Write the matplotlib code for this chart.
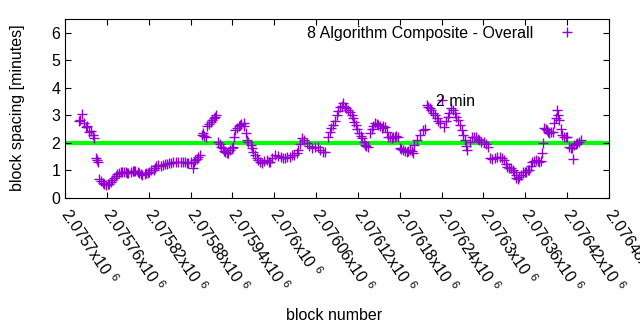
import numpy as np
import matplotlib
matplotlib.use("Agg")
import matplotlib.pyplot as plt

plt.rcParams['font.family'] = ['Liberation Sans', 'DejaVu Sans']
plt.rcParams['mathtext.default'] = 'regular'

# block offsets from 2075700 and block spacing in minutes
base_block = 2075700
block_offset = [
    20, 22, 24, 27, 30, 32, 34, 37, 40, 41,
    44, 46, 47,
    49, 51, 54, 56, 59, 61, 63, 66, 68, 70, 73, 75, 77, 80, 82, 84, 87, 89, 91, 94, 97, 99,
    101, 104, 106, 109, 111, 114, 116, 119, 121, 124, 127, 129, 131, 134, 137, 140, 143, 146,
    149, 152, 155, 159, 162, 166, 169, 172, 175, 177, 180, 183, 185, 187, 189, 191, 193,
    196, 198, 200, 202, 204, 206, 209, 211, 213, 215, 216,
    220, 222, 224, 226, 228, 230, 232, 234, 237, 239, 241, 243, 244, 247, 249, 251, 253, 256,
    257, 259, 261, 263, 266, 268, 270, 273, 275, 277, 280, 283, 286, 289, 292, 294, 297, 301,
    305, 309, 312, 316, 319, 323, 326, 329, 332, 334, 337, 340, 343, 347, 350, 354, 358, 363,
    366, 370,
    373, 377, 380, 382, 384, 387, 390, 392, 394, 397, 399, 401, 403, 406, 409, 411, 413, 415,
    417, 419, 421, 424, 426, 428, 430, 432, 434, 437, 440, 442, 444, 447, 449, 451, 454, 456,
    459, 461, 463, 466, 469, 471, 473, 475, 477, 480, 482, 484, 487, 490, 492, 494, 497, 499,
    501, 505, 509, 513, 516, 519, 521, 523, 525, 527, 530, 533, 535, 537, 541, 544, 546, 549,
    551, 554, 556, 559, 561, 563, 566, 569, 571, 573, 575, 577, 580, 583, 586, 589, 592, 594,
    597, 601, 603, 606, 609, 612, 616, 619, 623, 626, 630, 632, 634, 637, 640, 642, 644, 646,
    647, 649, 651, 654, 656, 659, 661, 664, 666, 668, 670, 673, 676, 678, 680, 682, 684, 685,
    687, 689, 691, 692, 694, 697, 699, 701, 704, 706, 707, 709, 711, 713, 716, 718, 720, 723,
    725, 727, 728, 730, 732, 734, 737, 740,
]
spacing = [
    2.80, 2.84, 3.05, 2.73, 2.58, 2.62, 2.40, 2.45, 2.29, 2.18,
    1.45, 1.38, 1.31,
    0.69, 0.60, 0.55, 0.50, 0.47, 0.50, 0.52, 0.58, 0.65, 0.73, 0.80, 0.87, 0.91, 0.93, 0.95, 0.95, 0.93, 0.92, 0.91, 0.95, 0.97, 0.98,
    0.98, 0.93, 0.90, 0.86, 0.84, 0.88, 0.90, 0.91, 0.95, 1.00, 1.02, 1.10, 1.15, 1.20, 1.18, 1.20, 1.22, 1.25,
    1.27, 1.28, 1.30, 1.31, 1.30, 1.30, 1.31, 1.30, 1.28, 1.27, 1.30, 1.09, 1.30, 1.38, 1.42, 1.50, 1.56,
    2.30, 2.36, 2.25, 2.20, 2.60, 2.70, 2.76, 2.85, 2.90, 2.95, 3.00,
    2.04, 1.95, 1.85, 1.80, 1.70, 1.67, 1.62, 1.65, 1.75, 1.80, 1.85, 2.20, 2.47, 2.55, 2.60, 2.65, 2.70, 2.73,
    2.60, 2.36, 2.10, 2.05, 1.93, 1.80, 1.67, 1.55, 1.45, 1.38, 1.30, 1.27, 1.33, 1.38, 1.30, 1.31, 1.45, 1.56,
    1.52, 1.50, 1.45, 1.45, 1.50, 1.50, 1.55, 1.56, 1.65, 1.75, 1.95, 2.18, 2.10, 2.00, 1.90, 1.82, 1.85, 1.85,
    1.75, 1.67,
    1.67, 2.20, 2.40, 2.55, 2.65, 2.80, 3.00, 3.15, 3.30, 3.35, 3.45, 3.30, 3.27, 3.20, 3.13, 3.00, 2.90, 2.75,
    2.65, 2.50, 2.36, 2.25, 2.18, 2.05, 1.93, 1.90, 1.85, 2.36, 2.50, 2.60, 2.73, 2.70, 2.65, 2.60, 2.55, 2.60,
    2.58, 2.40, 2.20, 2.20, 2.18, 2.20, 2.20, 2.25, 2.20, 1.80, 1.78, 1.75, 1.70, 1.67, 1.72, 1.75, 1.70, 1.64,
    1.93, 2.10, 2.30, 2.47, 2.50, 3.38, 3.30, 3.27, 3.20, 3.10, 3.00, 2.90, 2.80, 2.73, 3.56, 2.58, 2.80, 2.95,
    3.10, 3.27, 3.20, 3.10, 2.95, 2.84, 2.65, 2.47, 2.30, 2.10, 1.90, 1.75, 2.05, 2.20, 2.20, 2.20, 2.15, 2.10,
    2.05, 2.04, 1.95, 1.85, 1.45, 1.42, 1.45, 1.50, 1.50, 1.45, 1.38, 1.25, 1.13, 1.10, 1.09, 1.00, 0.95, 0.85,
    0.73, 0.70, 0.76, 0.85, 0.95, 0.93, 0.95, 1.00, 1.02, 1.15, 1.31, 1.35, 1.38, 1.33, 1.31, 1.35, 1.64, 2.00,
    2.55, 2.50, 2.47, 2.40, 2.36, 2.40, 2.40, 2.73, 2.90, 3.20, 3.00, 2.84, 2.50, 2.30, 2.20, 2.20, 2.20, 1.85,
    1.82, 1.80, 1.42, 1.93, 1.95, 2.00, 2.05, 2.10,
]
target_minutes = 2
blocks = base_block + np.array(block_offset)

fs = 11.5
fig = plt.figure(figsize=(6.4, 3.3), dpi=100)
ax = fig.add_axes([65/640, 1 - 198/330, 544/640, 179/330])

ax.axhline(target_minutes, color="#00ff00", lw=3, zorder=1)
ax.plot(blocks, spacing, "+", color="#9400d3", ms=7, mew=1,
        label="8 Algorithm Composite - Overall", zorder=2)
ax.text(2076232, 3.52, "2 min", fontsize=fs, ha="left", va="center", zorder=3)

ax.set_xlim(2075700, 2076480)
ax.set_ylim(0, 6.5)

xticks = np.arange(2075700, 2076481, 60)
ax.set_xticks(xticks)
ax.set_xticklabels([f"{v/1e6:g}x10 $^{{6}}$" for v in xticks],
                   rotation=-56, ha="left", va="center", rotation_mode="anchor")
ax.set_yticks(range(0, 7))
ax.tick_params(direction="in", top=True, right=True, length=4, labelsize=fs)
ax.tick_params(axis="x", pad=9)

ax.legend(loc="upper right", bbox_to_anchor=(0.961, 0.99), frameon=False,
          markerfirst=False, fontsize=fs, borderaxespad=0, borderpad=0.3,
          handlelength=2, handletextpad=1.1)

fig.text(18/640, 1 - 108/330, "block spacing [minutes]", rotation=90,
         ha="center", va="center", fontsize=fs)
fig.text(334/640, 1 - 315/330, "block number", ha="center", va="center", fontsize=fs)

fig.savefig("out.png", dpi=100)
